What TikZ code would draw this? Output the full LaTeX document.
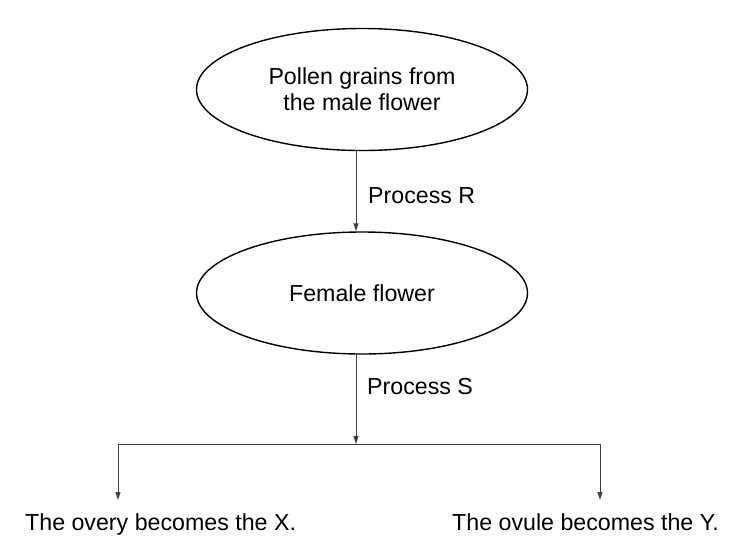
\documentclass[tikz,border=0pt]{standalone}
\usepackage{fontspec}
\setmainfont{Liberation Sans}
\usetikzlibrary{shapes.geometric,arrows.meta}
\tikzset{
	% Two node styles for the chart: oval boxes and plain text
	oval node/.style={ellipse,draw,line width=1.4pt,minimum width=331pt,minimum height=122pt,align=center,inner sep=0pt},
	text node/.style={inner sep=0pt,align=center},
	flow/.style={draw=black!75,line width=0.9pt,-{Triangle[length=8pt,width=5pt]}}
}
\begin{document}
\begin{tikzpicture}[x=1pt,y=-1pt,font=\fontsize{23.2}{26}\selectfont]
			\useasboundingbox (0,0) rectangle (736,542);
			% macro for inputing process labels
			\newcommand{\process}[3][base west]{\node[anchor=#1,inner sep=0pt]at(#2){#3};}

				\node(0)[oval node]at(362,89.5){Pollen grains from\\the male flower};
				\node(1)[oval node]at(362,293){Female flower};
				\coordinate(1-0)at(356,444);
				\coordinate(1-1-in)at(118,500);
				\coordinate(1-2-in)at(600,500);
				\node(1-1)[text node,anchor=base west]at(25,530){The overy becomes the X.};
				\node(1-2)[text node,anchor=base west]at(452,530){The ovule becomes the Y.};

				\draw[flow](0.south -| 1-0)--(1.north -| 1-0);
				\draw[flow](1.south -| 1-0)--(1-0);
				\draw[flow](1-0)-|(1-1-in);
				\draw[flow](1-0)-|(1-2-in);

			\process{368,203}{Process R}
			\process{367,394}{Process S}
		\end{tikzpicture}
\end{document}
